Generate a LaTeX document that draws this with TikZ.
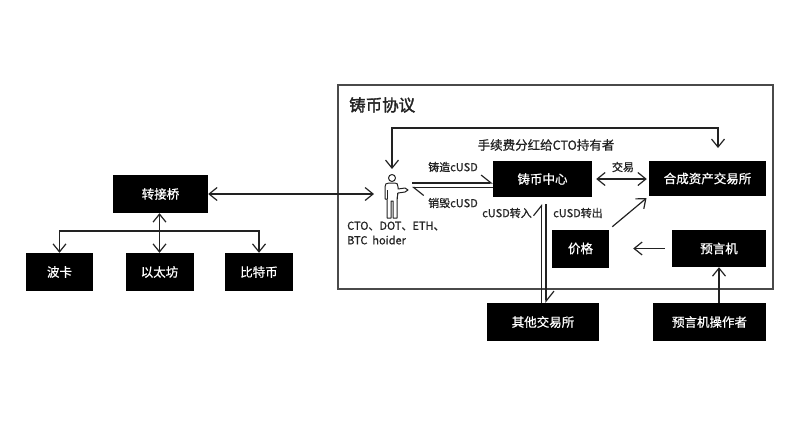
\documentclass[tikz,border=0pt]{standalone}
\usepackage{fontspec}
\setmainfont{Noto Sans CJK SC}[AutoFakeBold=2]
\newfontfamily\medf{Noto Sans CJK SC}[FakeBold=0.8]
\usetikzlibrary{arrows.meta}
\definecolor{ln}{HTML}{222222}
\definecolor{frame}{HTML}{4A4A4A}
\tikzset{
  bt/.tip={Straight Barb[length=8pt,width=13pt,line width=1.2pt]},
  hb/.tip={Straight Barb[harpoon,length=10pt,width=16pt,line width=1.2pt]}
}
\begin{document}
\begin{tikzpicture}[x=1pt,y=-1pt,
  blk/.style={draw=none,fill=black,text=white,font=\medf\fontsize{12.5}{14}\selectfont,inner sep=0pt},
  lab/.style={font=\medf\fontsize{11}{13}\selectfont,text=ln,inner sep=0pt},
  conn/.style={draw=ln,line width=1.2pt}
]
\useasboundingbox (0,0) rectangle (800,426);
% frame
\draw[frame,line width=1.7pt] (338,85) rectangle (773,289);
\node[anchor=west,font=\fontsize{16.5}{18}\selectfont\bfseries,text=ln,inner sep=0pt] (title) at (349,105) {铸币协议};
% boxes
\node[blk,minimum width=99pt,minimum height=36pt] (zb) at (542.5,179) {铸币中心};
\node[blk,minimum width=117pt,minimum height=35pt] (hc) at (707.5,178.5) {合成资产交易所};
\node[blk,minimum width=57pt,minimum height=38pt] (jg) at (580.5,248.5) {价格};
\node[blk,minimum width=94pt,minimum height=37pt] (yyj) at (719,248.5) {预言机};
\node[blk,minimum width=112pt,minimum height=38pt] (qt) at (543,322) {其他交易所};
\node[blk,minimum width=113pt,minimum height=38pt] (czz) at (709.5,322) {预言机操作者};
\node[blk,minimum width=95pt,minimum height=38pt] (qiao) at (160.5,194) {转接桥};
\node[blk,minimum width=67pt,minimum height=38pt] (boka) at (59.5,272) {波卡};
\node[blk,minimum width=68pt,minimum height=38pt] (yitai) at (159.5,272) {以太坊};
\node[blk,minimum width=68pt,minimum height=38pt] (btc) at (259,272) {比特币};
% person icon
\begin{scope}[draw=ln,line width=1pt,line join=round]
\draw (392,178) circle (3.5);
\draw (387,218) -- (387,199) -- (385,199) -- (385,187) .. controls (385,184) and (386,183) .. (389,183)
  -- (395,183) .. controls (397,183) and (398,184) .. (398,187) -- (398,189) -- (405,188) -- (408,190) -- (405,192) -- (398,193)
  -- (397,199) -- (397,218) -- (393,218) -- (393,201) -- (391,201) -- (391,218) -- cycle;
\draw (387,190) -- (387,199);
\draw (397,193) -- (397,199);
\end{scope}
\coordinate (pl) at (374,194);
\coordinate (ptop) at (392,169);
\coordinate (etop) at (718,148);
\node[anchor=west,font=\medf\fontsize{11}{13}\selectfont,text=ln,inner sep=0pt] (hl1) at (347,226) {CTO、DOT、ETH、};
\node[anchor=west,font=\medf\fontsize{11}{13}\selectfont,text=ln,inner sep=0pt] (hl2) at (347,240) {BTC\ \ hoider};
% bridge connectors
\draw[conn,{bt}-{bt}] (qiao.east) -- (pl);
\draw[conn,{bt}-{bt}] (qiao.south -| yitai.north) -- (yitai.north);
\coordinate (br) at (159.5,231);
\draw[conn,-{bt}] (br) -| (boka.north);
\draw[conn,-{bt}] (br) -| (btc.north);
% fee loop
\draw[conn,{bt}-{bt}] (ptop) -- ++(0,-41) -| (etop);
\node[lab,font=\medf\fontsize{12.5}{14}\selectfont] (fee) at (546,145) {手续费分红给CTO持有者};
% mint / burn
\coordinate (m1) at (412,183);
\coordinate (m2) at (412,187.5);
\draw[conn,-{hb}] (m1) -- (m1 -| zb.west);
\draw[conn,-{hb}] (m2 -| zb.west) -- (m2);
\node[lab] (zz) at (453,167) {铸造cUSD};
\node[lab] (xh) at (453,203) {销毁cUSD};
% trade
\draw[conn,{bt}-{bt},shorten <=4pt,shorten >=2pt] (zb.east) -- (zb.east -| hc.west);
\node[lab] (jy) at (623,167) {交易};
% in / out
\coordinate (v1) at (541.5,204);
\coordinate (v2) at (546,204);
\draw[conn,-{hb}] (v1 |- qt.north) -- (v1);
\draw[conn,-{hb}] (v2) -- (v2 |- qt.north);
\node[lab] (zr) at (507,213) {cUSD转入};
\node[lab] (zc) at (578,213) {cUSD转出};
% price
\draw[conn,-{bt},shorten <=4pt,shorten >=3pt] (jg.north east) -- (hc.south west);
\draw[conn,-{bt},shorten <=7pt,shorten >=24pt] (yyj.west) -- (jg.east);
\draw[conn,-{bt}] (czz.north -| yyj.south) -- (yyj.south);
\end{tikzpicture}
\end{document}
